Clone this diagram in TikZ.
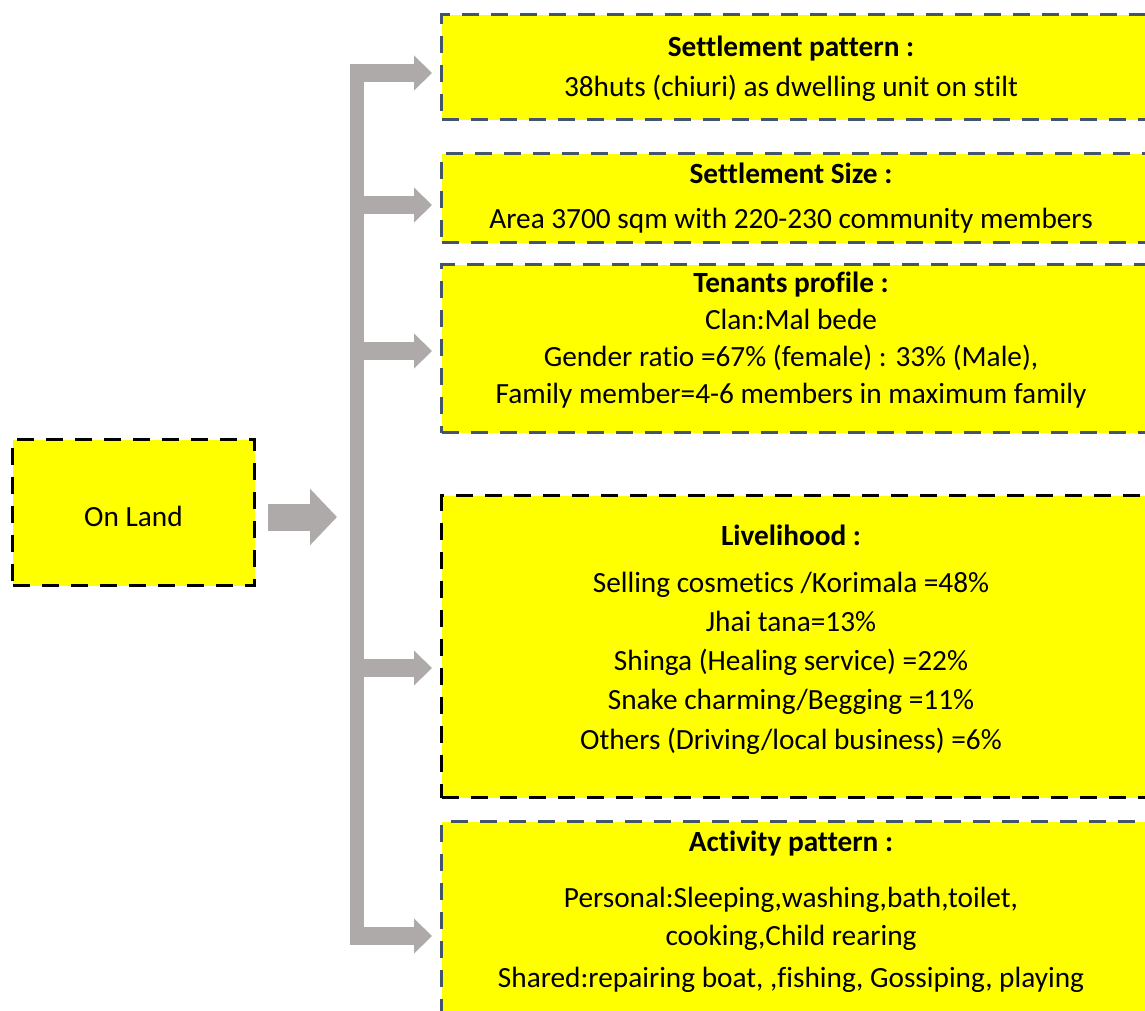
\documentclass[tikz,border=0pt]{standalone}
\usepackage{fontspec}
\setmainfont{Carlito}[Ligatures=CommonOff]
\usetikzlibrary{arrows.meta}
\definecolor{boxyellow}{HTML}{FFFF00}
\definecolor{arrowgray}{HTML}{AEAAAA}
\definecolor{slateline}{HTML}{44546A}
\begin{document}
\begin{tikzpicture}[x=1pt,y=-1pt,
  infobox/.style={draw=slateline, line width=3pt, dash pattern=on 17pt off 12pt, fill=boxyellow, anchor=north west, inner sep=0pt, minimum width=720pt},
  blackbox/.style={infobox, draw=black},
  txt/.style={font=\fontsize{29.3}{35}\selectfont, text height=0.7em, text depth=0.25em, inner sep=0pt},
  ttl/.style={txt, font=\fontsize{29.3}{35}\selectfont\bfseries},
  bar/.style={draw=arrowgray, line width=13.5pt},
  branch/.style={draw=arrowgray, line width=18pt, -{Triangle[length=18pt,width=34pt]}},
  bigarrow/.style={draw=arrowgray, line width=27pt, -{Triangle[length=27pt,width=55pt]}}
]
\useasboundingbox (0,0) rectangle (1145,1010);
\clip (0,0) rectangle (1145,1010);
\fill[white] (0,0) rectangle (1145,1010);

% left box
\node[blackbox, minimum width=242pt, minimum height=146pt] (land) at (11,438) {};
\node[txt] (landtxt) at ([yshift=-12pt]land.center) {On Land};

% right boxes
\node[infobox, minimum height=105pt] (b1) at (440,13) {};
\node[infobox, minimum height=89pt] (b2) at (440,152) {};
\node[infobox, minimum height=168pt] (b3) at (440,263) {};
\node[blackbox, minimum height=302pt] (b4) at (440,494) {};
\node[infobox, minimum height=210pt] (b5) at (440,820) {};

% texts
\node[ttl] (t1a) at (791,54) {Settlement pattern :};
\node[txt] (t1b) at (791,94) {38huts (chiuri) as dwelling unit on stilt};
\node[ttl] (t2a) at (791,181) {Settlement Size :};
\node[txt] (t2b) at (791,226) {Area 3700 sqm with 220-230 community members};
\node[ttl] (t3a) at (791,290) {Tenants profile :};
\node[txt] (t3b) at (791,327) {Clan:Mal bede};
\node[txt] (t3c) at (791,364) {Gender ratio =67\% (female) : 33\% (Male),};
\node[txt] (t3d) at (791,401) {Family member=4-6 members in maximum family};
\node[ttl] (t4a) at (791,543) {Livelihood :};
\node[txt] (t4b) at (791,590) {Selling cosmetics /Korimala =48\%};
\node[txt] (t4c) at (791,629) {Jhai tana=13\%};
\node[txt] (t4d) at (791,668) {Shinga (Healing service) =22\%};
\node[txt] (t4e) at (791,707) {Snake charming/Begging =11\%};
\node[txt] (t4f) at (791,747) {Others (Driving/local business) =6\%};
\node[ttl] (t5a) at (791,849) {Activity pattern :};
\node[txt] (t5b) at (791,905) {Personal:Sleeping,washing,bath,toilet,};
\node[txt] (t5c) at (791,943) {cooking,Child rearing};
\node[txt] (t5d) at (791,985) {Shared:repairing boat, ,fishing, Gossiping, playing};

% big arrow
\coordinate (bigend) at (337,517);
\draw[bigarrow] (land.east |- bigend) ++(12pt,0) -- (bigend);

% vertical bar and branches
\coordinate (bartop) at (356.75,64);
\coordinate (barbot) at (356.75,945);
\draw[bar] (bartop) -- (barbot);
\coordinate (a1) at (350,73);
\coordinate (a2) at (356.75,205);
\coordinate (a3) at (356.75,351);
\coordinate (a4) at (356.75,668);
\coordinate (a5) at (350,936);
\draw[branch] (a1) -- ([xshift=-8pt]a1 -| b1.west);
\draw[branch] (a2) -- ([xshift=-8pt]a2 -| b2.west);
\draw[branch] (a3) -- ([xshift=-8pt]a3 -| b3.west);
\draw[branch] (a4) -- ([xshift=-8pt]a4 -| b4.west);
\draw[branch] (a5) -- ([xshift=-8pt]a5 -| b5.west);
\end{tikzpicture}
\end{document}
